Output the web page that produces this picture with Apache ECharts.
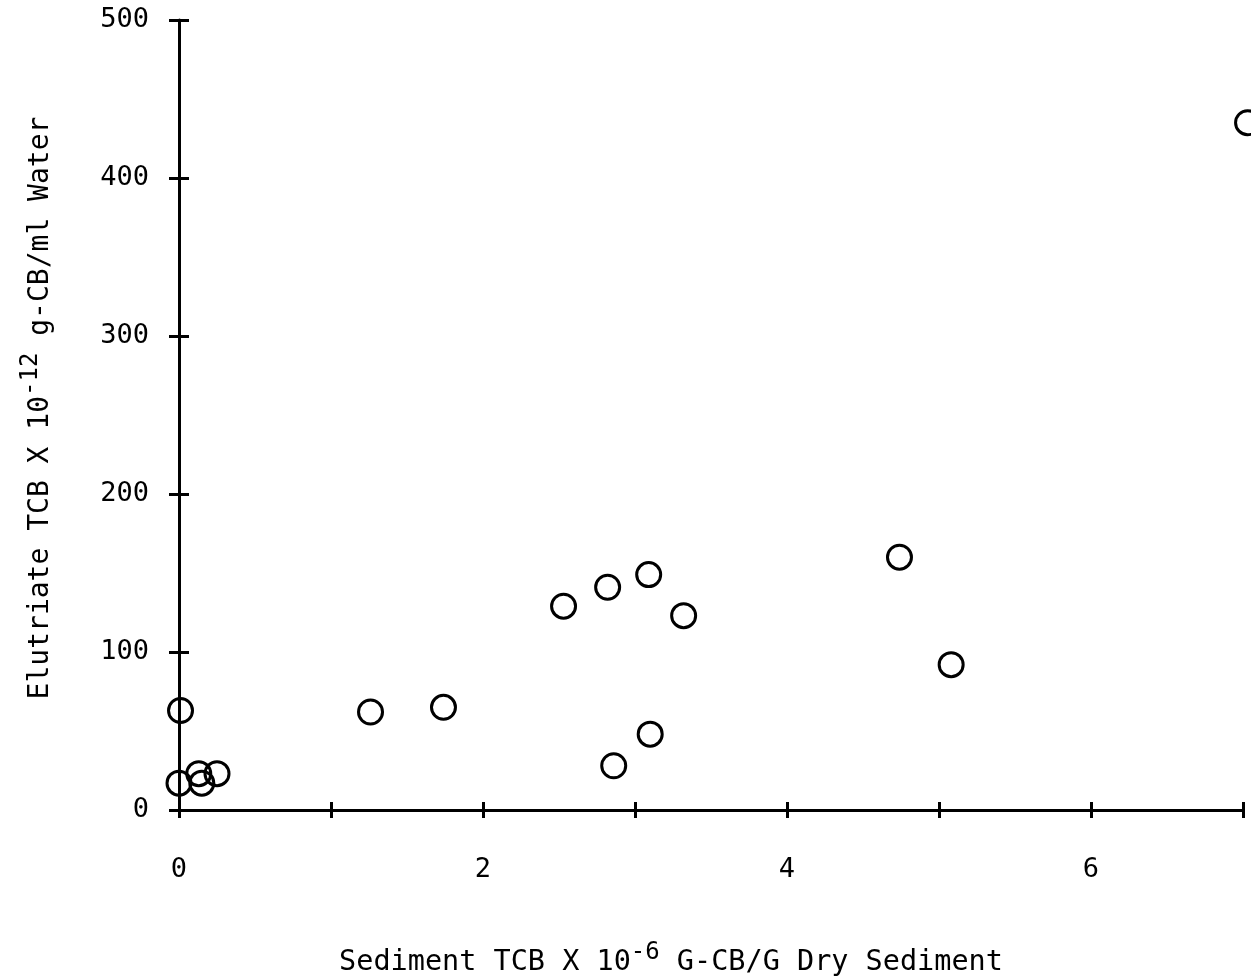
<!DOCTYPE html>
<html><head><meta charset="utf-8">
<script src="https://cdn.jsdelivr.net/npm/echarts@6/dist/echarts.min.js"></script>
<style>html,body{margin:0;padding:0;background:#fff}#c{width:1251px;height:979px}</style>
</head><body><div id="c"></div>
<script>
const sedimentTCB = [0.01, 0.0, 0.13, 0.15, 0.25, 1.26, 1.74, 2.53, 2.82, 3.09, 3.32, 2.86, 3.10, 4.74, 5.08, 7.03];
const elutriateTCB = [63, 17, 23, 17, 23, 62, 65, 129, 141, 149, 123, 28, 48, 160, 92, 435];
const xTicks = [0, 2, 4, 6];
const yTicks = [0, 100, 200, 300, 400, 500];

const font = 'DejaVu Sans Mono';
const pts = sedimentTCB.map((x, i) => [x, elutriateTCB[i]]);
const lineStyle = { color: '#000', width: 3 };
const chart = echarts.init(document.getElementById('c'));
chart.setOption({
  backgroundColor: '#fff',
  animation: false,
  grid: { left: 179, right: 8, top: 20, bottom: 169, outerBoundsMode: 'none', containLabel: false },
  xAxis: [{
    type: 'value', min: 0, max: 7, interval: 1,
    axisLine: { show: true, lineStyle },
    axisTick: { show: true, length: 8, lineStyle },
    splitLine: { show: false },
    axisLabel: { margin: 46, color: '#000', fontFamily: font, fontSize: 27,
      formatter: v => xTicks.includes(v) ? String(v) : '' },
    name: '{a|Sediment TCB X 10}{s|-6}{a| G-CB/G Dry Sediment}',
    nameLocation: 'middle', nameGap: 131,
    nameTextStyle: { padding: [0, 80, 0, 0], rich: {
      a: { fontFamily: font, fontSize: 28.5, color: '#000', verticalAlign: 'bottom' },
      s: { fontFamily: font, fontSize: 24, color: '#000', verticalAlign: 'top', padding: [0, 0, 12, 0] } } }
  }, {
    type: 'value', min: 0, max: 7, interval: 1, position: 'bottom',
    axisLine: { show: false }, axisTick: { show: true, inside: true, length: 8, lineStyle },
    axisLabel: { show: false }, splitLine: { show: false }
  }],
  yAxis: [{
    type: 'value', min: 0, max: 500, interval: 100,
    axisLine: { show: true, lineStyle },
    axisTick: { show: true, length: 10, lineStyle },
    splitLine: { show: false },
    axisLabel: { margin: 30, color: '#000', fontFamily: font, fontSize: 27,
      formatter: v => yTicks.includes(v) ? String(v) : '' },
    name: '{a|Elutriate TCB X 10}{s|-12}{a| g-CB/ml Water}',
    nameLocation: 'middle', nameGap: 124,
    nameTextStyle: { padding: [0, 0, 0, 14], rich: {
      a: { fontFamily: font, fontSize: 28, color: '#000', verticalAlign: 'bottom' },
      s: { fontFamily: font, fontSize: 24, color: '#000', verticalAlign: 'top', padding: [0, 0, 12, 0] } } }
  }, {
    type: 'value', min: 0, max: 500, interval: 100, position: 'left',
    axisLine: { show: false }, axisTick: { show: true, inside: true, length: 10, lineStyle },
    axisLabel: { show: false }, splitLine: { show: false }
  }],
  series: [{
    type: 'scatter', data: pts, clip: false,
    symbol: 'circle', symbolSize: 24,
    itemStyle: { color: 'rgba(0,0,0,0)', borderColor: '#000', borderWidth: 3, opacity: 1 }
  }]
});
</script></body></html>
